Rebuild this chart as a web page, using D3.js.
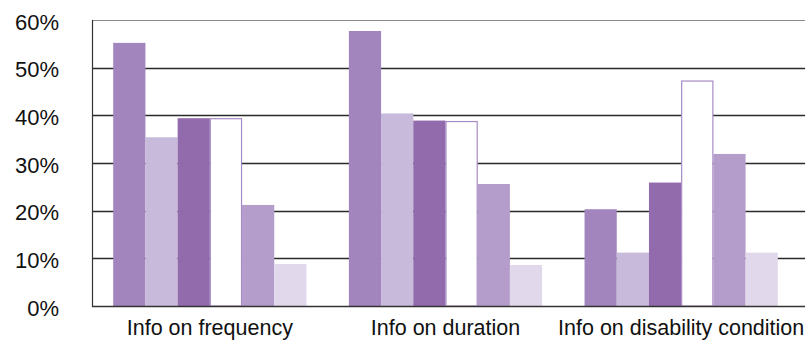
<!DOCTYPE html>
<html>
<head>
<meta charset="utf-8">
<script src="https://cdn.jsdelivr.net/npm/d3@7"></script>
<style>
  html, body { margin: 0; padding: 0; background: #fff; }
  svg { display: block; font-family: "Liberation Sans", Arial, sans-serif; }
</style>
</head>
<body>
<svg id="chart" width="805" height="341"></svg>
<script>
// Categories along the x axis
const categories = ["Info on frequency", "Info on duration", "Info on disability condition"];

// Six series, one value (percent) per category
const series1 = [55.2, 57.7, 20.3];
const series2 = [35.4, 40.4, 11.2];
const series3 = [39.4, 38.9, 25.9];
const series4 = [39.4, 38.8, 47.3];
const series5 = [21.2, 25.6, 31.9];
const series6 = [8.8, 8.6, 11.2];

const seriesValues = [series1, series2, series3, series4, series5, series6];
const seriesFill   = ["#a285bd", "#c8badb", "#926bad", "#ffffff", "#b49dcb", "#e1d8ec"];
const seriesStroke = [null, null, null, "#a68bc4", null, null];

// Y tick values (percent)
const yTicks = [0, 10, 20, 30, 40, 50, 60];

(function draw() {
  const svg = d3.select("#chart");
  const plotL = 92, plotR = 799, plotT = 20, plotB = 306;

  const x0 = d3.scaleBand().domain(categories).range([plotL, plotR]).paddingInner(0.18).paddingOuter(0.09);
  const x1 = d3.scaleBand().domain(d3.range(seriesValues.length)).range([0, x0.bandwidth()]).padding(0);
  const y = d3.scaleLinear().domain([0, 60]).range([plotB, plotT]);

  // Gridlines
  svg.append("g")
    .selectAll("line")
    .data(yTicks.filter(t => t > 0 && t < 60))
    .join("line")
    .attr("x1", plotL).attr("x2", 805)
    .attr("y1", d => Math.round(y(d)) + 0.5).attr("y2", d => Math.round(y(d)) + 0.5)
    .attr("stroke", "#2a2a2a").attr("stroke-width", 1.3);

  // Top border of plot area
  svg.append("line")
    .attr("x1", plotL).attr("x2", 805)
    .attr("y1", plotT + 0.5).attr("y2", plotT + 0.5)
    .attr("stroke", "#8a8a8a").attr("stroke-width", 1.2);

  // Bars
  const groups = svg.append("g")
    .selectAll("g")
    .data(categories)
    .join("g")
    .attr("transform", d => `translate(${x0(d)},0)`);

  groups.selectAll("rect")
    .data((c, ci) => seriesValues.map((vals, si) => ({ si, v: vals[ci] })))
    .join("rect")
    .attr("x", d => x1(d.si) + (seriesStroke[d.si] ? 0.5 : 0))
    .attr("width", d => x1.bandwidth() - (seriesStroke[d.si] ? 1 : 0))
    .attr("y", d => y(d.v) + (seriesStroke[d.si] ? 0.5 : 0))
    .attr("height", d => plotB - y(d.v) - (seriesStroke[d.si] ? 0.5 : 0))
    .attr("fill", d => seriesFill[d.si])
    .attr("stroke", d => seriesStroke[d.si] || "none")
    .attr("stroke-width", 1.2);

  // Axis lines
  svg.append("line")
    .attr("x1", plotL + 0.5).attr("x2", plotL + 0.5)
    .attr("y1", plotT).attr("y2", plotB + 1)
    .attr("stroke", "#333").attr("stroke-width", 1.2);
  svg.append("line")
    .attr("x1", plotL).attr("x2", 805)
    .attr("y1", plotB + 0.5).attr("y2", plotB + 0.5)
    .attr("stroke", "#333").attr("stroke-width", 1.3);

  // Y axis labels
  const yAxis = d3.axisLeft(y).tickValues(yTicks).tickFormat(d => d + "%").tickSize(0).tickPadding(33);
  const gy = svg.append("g").attr("transform", `translate(${plotL},0)`).call(yAxis);
  gy.select(".domain").remove();
  gy.selectAll("text")
    .attr("font-size", 22)
    .attr("fill", "#111")
    .attr("font-family", "'Liberation Sans', Arial, sans-serif")
    .attr("dy", "0.42em");

  // X axis labels
  const xAxis = d3.axisBottom(x0).tickSize(0).tickPadding(14);
  const gx = svg.append("g").attr("transform", `translate(0,${plotB})`).call(xAxis);
  gx.select(".domain").remove();
  gx.selectAll("text")
    .attr("font-size", 21.5)
    .attr("fill", "#111")
    .attr("font-family", "'Liberation Sans', Arial, sans-serif");
})();
</script>
</body>
</html>
